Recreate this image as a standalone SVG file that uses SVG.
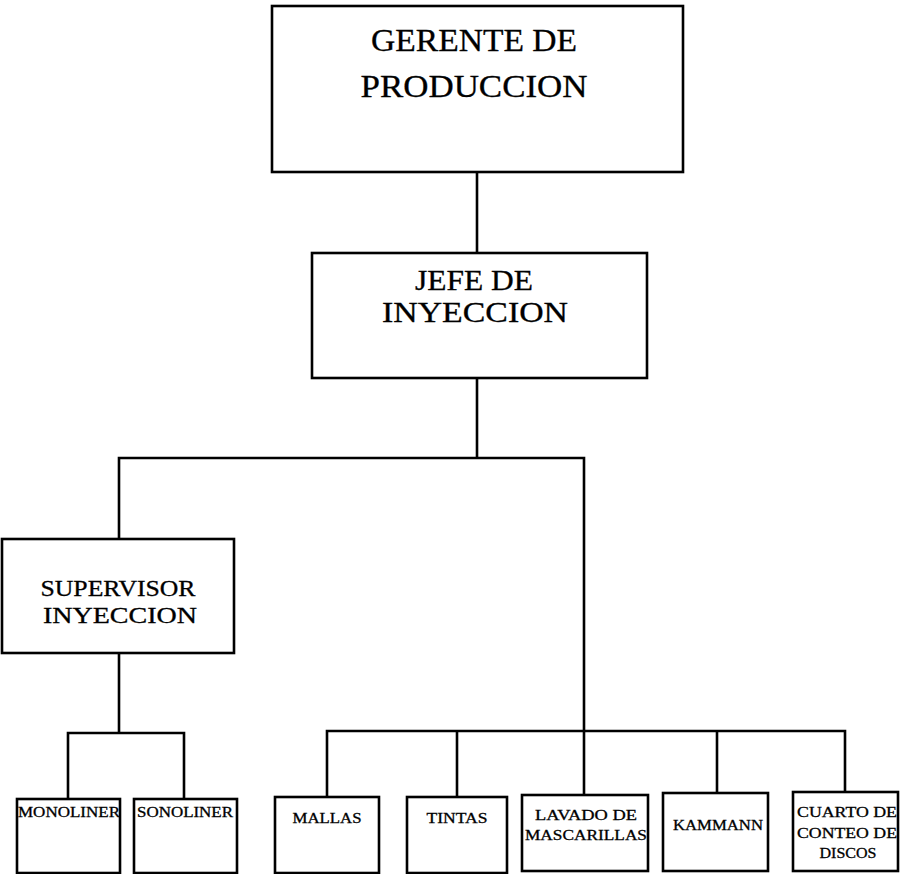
<svg xmlns="http://www.w3.org/2000/svg" width="900" height="874" viewBox="0 0 900 874">
<style>
.box{fill:#fff;stroke:#000;stroke-width:2.6}
.ln{fill:none;stroke:#000;stroke-width:2.6}
text{font-family:"Liberation Serif","Times New Roman",serif;fill:#000;text-anchor:middle;stroke:#000;stroke-width:0.3}
.big{font-size:31px}
.mid{font-size:29px}
.sup{font-size:23px}
.sm{font-size:15px}
</style>
<rect width="900" height="874" fill="#fff"/>
<g id="connectors">
<polyline class="ln" points="477,172 477,253"/>
<polyline class="ln" points="477,378 477,458"/>
<polyline class="ln" points="119,539 119,458 584,458 584,795"/>
<polyline class="ln" points="119,653 119,733"/>
<polyline class="ln" points="68,799 68,733 184,733 184,799"/>
<polyline class="ln" points="327,797 327,731 845,731 845,792"/>
<polyline class="ln" points="457,797 457,731"/>
<polyline class="ln" points="717,793 717,731"/>
</g>
<g id="gerente">
<rect class="box" x="272" y="6" width="411" height="166"/>
<text class="big" transform="translate(474,51) scale(1,1.05)" textLength="206" lengthAdjust="spacingAndGlyphs">GERENTE DE</text>
<text class="big" transform="translate(474,97) scale(1,1.05)" textLength="227" lengthAdjust="spacingAndGlyphs">PRODUCCION</text>
</g>
<g id="jefe">
<rect class="box" x="312" y="253" width="335" height="125"/>
<text class="mid" x="474" y="290" textLength="118" lengthAdjust="spacingAndGlyphs">JEFE DE</text>
<text class="mid" x="475" y="322" textLength="186" lengthAdjust="spacingAndGlyphs">INYECCION</text>
</g>
<g id="supervisor">
<rect class="box" x="2" y="539" width="232" height="114"/>
<text class="sup" x="118" y="596" textLength="155" lengthAdjust="spacingAndGlyphs">SUPERVISOR</text>
<text class="sup" x="120" y="623" textLength="154" lengthAdjust="spacingAndGlyphs">INYECCION</text>
</g>
<g id="monoliner">
<rect class="box" x="17" y="799" width="103" height="74"/>
<text class="sm" x="69" y="817" textLength="102" lengthAdjust="spacingAndGlyphs">MONOLINER</text>
</g>
<g id="sonoliner">
<rect class="box" x="134" y="799" width="103" height="74"/>
<text class="sm" x="185" y="817" textLength="96" lengthAdjust="spacingAndGlyphs">SONOLINER</text>
</g>
<g id="mallas">
<rect class="box" x="275" y="797" width="104" height="76"/>
<text class="sm" x="327" y="823" textLength="69" lengthAdjust="spacingAndGlyphs">MALLAS</text>
</g>
<g id="tintas">
<rect class="box" x="407" y="797" width="100" height="76"/>
<text class="sm" x="457" y="823" textLength="61" lengthAdjust="spacingAndGlyphs">TINTAS</text>
</g>
<g id="lavado">
<rect class="box" x="522" y="795" width="126" height="76"/>
<text class="sm" x="586" y="820" textLength="102" lengthAdjust="spacingAndGlyphs">LAVADO DE</text>
<text class="sm" x="586" y="840" textLength="122" lengthAdjust="spacingAndGlyphs">MASCARILLAS</text>
</g>
<g id="kammann">
<rect class="box" x="663" y="793" width="105" height="78"/>
<text class="sm" x="718" y="830" textLength="90" lengthAdjust="spacingAndGlyphs">KAMMANN</text>
</g>
<g id="cuarto">
<rect class="box" x="793" y="792" width="105" height="79"/>
<text class="sm" x="847" y="817" textLength="100" lengthAdjust="spacingAndGlyphs">CUARTO DE</text>
<text class="sm" x="847" y="838" textLength="100" lengthAdjust="spacingAndGlyphs">CONTEO DE</text>
<text class="sm" x="848" y="858" textLength="57" lengthAdjust="spacingAndGlyphs">DISCOS</text>
</g>
</svg>
